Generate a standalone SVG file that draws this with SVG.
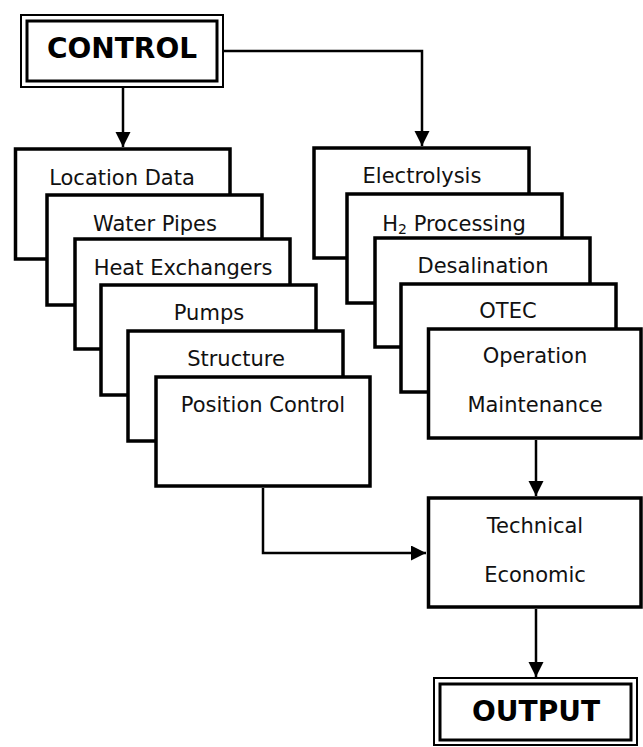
<svg xmlns="http://www.w3.org/2000/svg" width="643" height="747" viewBox="0 0 643 747">
<style>
  .box { fill: #fff; stroke: #000; stroke-width: 3.5; }
  .outer { fill: #fff; stroke: #000; stroke-width: 2; }
  .inner { fill: none; stroke: #000; stroke-width: 3; }
  .lbl { font-family: "DejaVu Sans", Verdana, sans-serif; font-size: 21px; fill: #111; text-anchor: middle; }
  .big { font-family: "DejaVu Sans", Verdana, sans-serif; font-size: 28px; font-weight: bold; fill: #000; text-anchor: middle; }
  .conn { fill: none; stroke: #000; stroke-width: 2.5; }
</style>
<defs>
  <marker id="arr" markerUnits="userSpaceOnUse" markerWidth="16" markerHeight="16" refX="15" refY="7.5" orient="auto">
    <path d="M0,0 L15,7.5 L0,15 Z" fill="#000"/>
  </marker>
</defs>

<g id="control">
  <rect class="outer" x="21" y="15" width="202" height="72"/>
  <rect class="inner" x="27" y="21" width="190" height="60"/>
  <text class="big" x="122" y="58">CONTROL</text>
</g>

<g id="location-data">
  <rect class="box" x="15.5" y="149" width="214.5" height="110"/>
  <text class="lbl" x="122" y="185">Location Data</text>
</g>
<g id="water-pipes">
  <rect class="box" x="47" y="195" width="215" height="110"/>
  <text class="lbl" x="155" y="231">Water Pipes</text>
</g>
<g id="heat-exchangers">
  <rect class="box" x="75" y="239" width="215" height="110"/>
  <text class="lbl" x="183" y="275">Heat Exchangers</text>
</g>
<g id="pumps">
  <rect class="box" x="101" y="285" width="215" height="110"/>
  <text class="lbl" x="209" y="320">Pumps</text>
</g>
<g id="structure">
  <rect class="box" x="128" y="331" width="215" height="110"/>
  <text class="lbl" x="236" y="366">Structure</text>
</g>
<g id="position-control">
  <rect class="box" x="156" y="377" width="214" height="109"/>
  <text class="lbl" x="263" y="412">Position Control</text>
</g>

<g id="electrolysis">
  <rect class="box" x="314" y="148" width="215" height="110"/>
  <text class="lbl" x="422" y="183">Electrolysis</text>
</g>
<g id="h2-processing">
  <rect class="box" x="347" y="194" width="215" height="109"/>
  <text class="lbl" x="454" y="231">H<tspan font-size="14" dy="3">2</tspan><tspan dy="-3"> Processing</tspan></text>
</g>
<g id="desalination">
  <rect class="box" x="375" y="238" width="215" height="109"/>
  <text class="lbl" x="483" y="273">Desalination</text>
</g>
<g id="otec">
  <rect class="box" x="401" y="284" width="215" height="108"/>
  <text class="lbl" x="508" y="318">OTEC</text>
</g>
<g id="operation-maintenance">
  <rect class="box" x="428.5" y="329" width="212.5" height="109"/>
  <text class="lbl" x="535" y="363">Operation</text>
  <text class="lbl" x="535" y="412">Maintenance</text>
</g>

<g id="technical-economic">
  <rect class="box" x="428.5" y="498" width="212.5" height="109"/>
  <text class="lbl" x="535" y="533">Technical</text>
  <text class="lbl" x="535" y="582">Economic</text>
</g>

<g id="output">
  <rect class="outer" x="434" y="678" width="203" height="67"/>
  <rect class="inner" x="440" y="684" width="191" height="56"/>
  <text class="big" x="536" y="721">OUTPUT</text>
</g>

<g id="connectors">
  <path class="conn" d="M123,88 V147" marker-end="url(#arr)"/>
  <path class="conn" d="M223,51 H422 V146" marker-end="url(#arr)"/>
  <path class="conn" d="M536,440 V496" marker-end="url(#arr)"/>
  <path class="conn" d="M263,488 V553 H426" marker-end="url(#arr)"/>
  <path class="conn" d="M536,609 V677" marker-end="url(#arr)"/>
</g>
</svg>
